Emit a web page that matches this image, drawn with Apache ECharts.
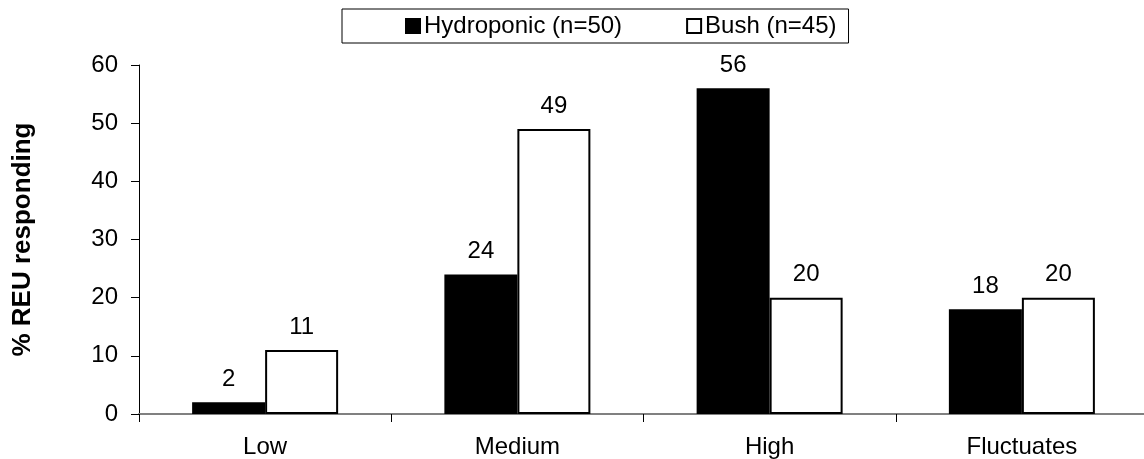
<!DOCTYPE html>
<html>
<head>
<meta charset="utf-8">
<script src="https://cdn.jsdelivr.net/npm/echarts@6/dist/echarts.min.js"></script>
<style>
  html, body { margin: 0; padding: 0; background: #fff; }
  #chart { width: 1144px; height: 459px; }
</style>
</head>
<body>
<div id="chart"></div>
<script>
const categories = ['Low', 'Medium', 'High', 'Fluctuates'];
const hydroponic = [2, 24, 56, 18];
const bush = [11, 49, 20, 20];
const seriesNames = ['Hydroponic (n=50)', 'Bush (n=45)'];
const yTicks = { min: 0, max: 60, interval: 10 };
const yTitle = '% REU responding';

const FONT = "'Liberation Sans', Arial, Helvetica, sans-serif";

const chart = echarts.init(document.getElementById('chart'), null, { renderer: 'canvas' });

const labelStyle = {
  show: true,
  position: 'top',
  distance: 11,
  color: '#000',
  fontSize: 24,
  fontFamily: FONT
};

chart.setOption({
  animation: false,
  backgroundColor: '#fff',
  textStyle: { fontFamily: FONT },
  legend: {
    left: 342,
    top: 9,
    padding: [5, 12, 5, 63],
    backgroundColor: '#fff',
    borderColor: '#000',
    borderWidth: 1,
    itemWidth: 14,
    itemHeight: 14,
    itemGap: 64,
    icon: 'rect',
    textStyle: { fontSize: 24, color: '#000', fontFamily: FONT, padding: [0, 0, 0, -1] },
    data: seriesNames
  },
  grid: {
    left: 139,
    right: -4,
    top: 65,
    bottom: 45,
    containLabel: false,
    outerBoundsMode: 'none'
  },
  xAxis: {
    type: 'category',
    data: categories,
    boundaryGap: true,
    axisLine: { show: true, lineStyle: { color: '#808080', width: 2 } },
    axisTick: { show: true, alignWithLabel: false, length: 8, lineStyle: { color: '#000', width: 1 } },
    axisLabel: { fontSize: 24, color: '#000', fontFamily: FONT, margin: 21 },
    splitLine: { show: false }
  },
  yAxis: {
    type: 'value',
    min: yTicks.min,
    max: yTicks.max,
    interval: yTicks.interval,
    name: yTitle,
    nameLocation: 'middle',
    nameRotate: 90,
    nameGap: 103,
    nameTextStyle: { fontSize: 26, fontWeight: 'bold', color: '#000', fontFamily: FONT },
    axisLine: { show: true, lineStyle: { color: '#000', width: 1 } },
    axisTick: { show: true, inside: false, length: 8, lineStyle: { color: '#000', width: 1 } },
    axisLabel: { fontSize: 24, color: '#000', fontFamily: FONT, margin: 21 },
    splitLine: { show: false }
  },
  series: [
    {
      name: seriesNames[0],
      type: 'bar',
      data: hydroponic,
      barWidth: 73,
      barGap: '0%',
      itemStyle: { color: '#000', borderColor: '#000', borderWidth: 2 },
      label: labelStyle
    },
    {
      name: seriesNames[1],
      type: 'bar',
      data: bush,
      barWidth: 73,
      barGap: '0%',
      itemStyle: { color: '#fff', borderColor: '#000', borderWidth: 2 },
      label: labelStyle
    }
  ]
});
</script>
</body>
</html>
